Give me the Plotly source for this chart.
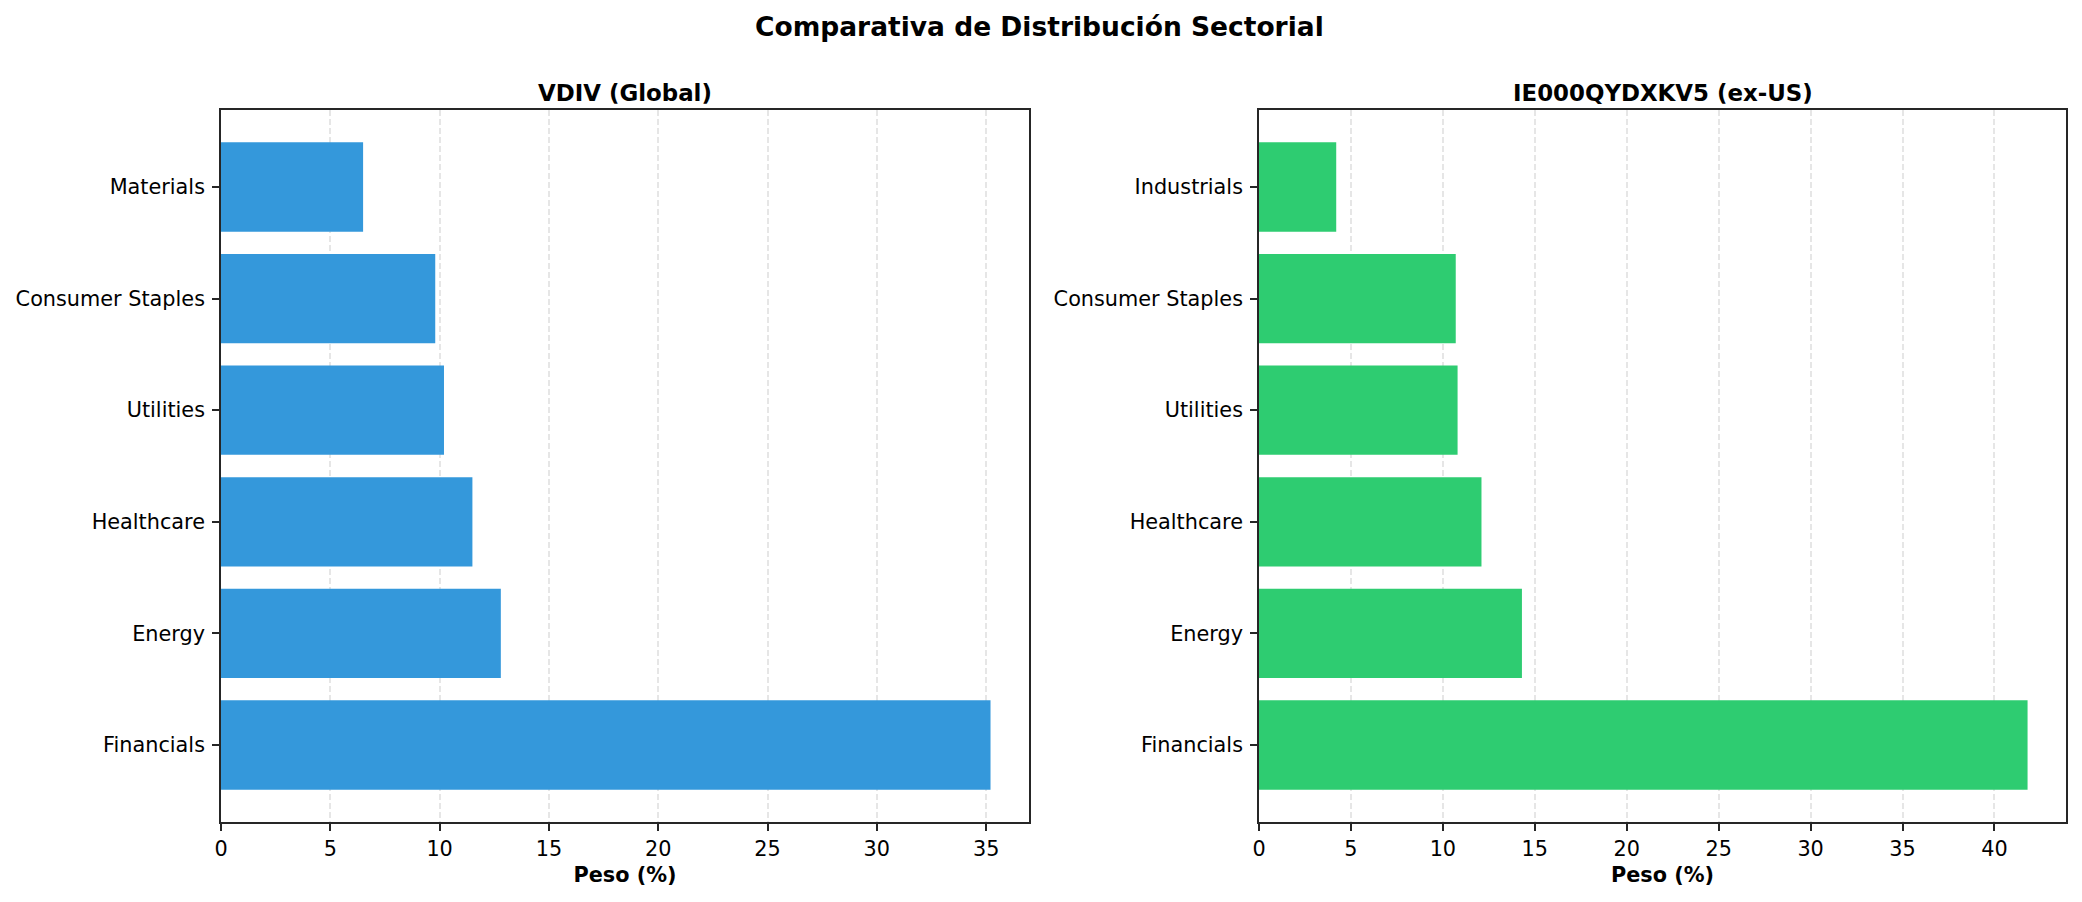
import plotly.graph_objects as go

# Data
sectors_vdiv = ["Financials", "Energy", "Healthcare", "Utilities", "Consumer Staples", "Materials"]
weights_vdiv = [35.2, 12.8, 11.5, 10.2, 9.8, 6.5]

sectors_exus = ["Financials", "Energy", "Healthcare", "Utilities", "Consumer Staples", "Industrials"]
weights_exus = [41.8, 14.3, 12.1, 10.8, 10.7, 4.2]

title_main = "Comparativa de Distribución Sectorial"
title_left = "VDIV (Global)"
title_right = "IE000QYDXKV5 (ex-US)"
x_label = "Peso (%)"

W, H = 2082, 902
FONT = "DejaVu Sans"
BLUE = "#3498db"
GREEN = "#2ecc71"
SPINE = "#262626"

fig = go.Figure()
fig.add_trace(go.Bar(x=weights_vdiv, y=sectors_vdiv, orientation="h",
                     marker=dict(color=BLUE, line=dict(width=0)), width=0.8,
                     xaxis="x", yaxis="y", showlegend=False))
fig.add_trace(go.Bar(x=weights_exus, y=sectors_exus, orientation="h",
                     marker=dict(color=GREEN, line=dict(width=0)), width=0.8,
                     xaxis="x2", yaxis="y2", showlegend=False))

def xax(domain, anchor, xmax):
    return dict(domain=domain, anchor=anchor, range=[0, xmax * 1.05],
                automargin=False,
                tickmode="linear", tick0=0, dtick=5,
                showline=True, mirror=True, linecolor=SPINE, linewidth=1.7,
                ticks="outside", ticklen=7, tickwidth=1.7, tickcolor=SPINE,
                showgrid=True, gridcolor="#e6e6e6", gridwidth=1.6, griddash="6px,3px",
                zeroline=False,
                tickfont=dict(family=FONT, size=20.8, color="black"),
                title=dict(text="<b>" + x_label + "</b>", standoff=8,
                           font=dict(family=FONT, size=20.8, color="black")))

def yax(domain, anchor, cats):
    n = len(cats)
    return dict(domain=domain, anchor=anchor, type="category",
                automargin=False,
                categoryorder="array", categoryarray=cats,
                range=[-0.69, n - 1 + 0.69],
                showline=True, mirror=True, linecolor=SPINE, linewidth=1.7,
                ticks="outside", ticklen=7, tickwidth=1.7, tickcolor=SPINE,
                ticklabelstandoff=3,
                showgrid=False, zeroline=False,
                tickfont=dict(family=FONT, size=20.8, color="black"))

ydom = [1 - 822 / H, 1 - 110 / H]
fig.update_layout(
    width=W, height=H,
    margin=dict(l=0, r=0, t=0, b=0, autoexpand=False),
    paper_bgcolor="white", plot_bgcolor="white",
    bargap=0.2,
    xaxis=xax([221 / W, 1029 / W], "y", max(weights_vdiv)),
    yaxis=yax(ydom, "x", sectors_vdiv),
    xaxis2=xax([1259 / W, 2066 / W], "y2", max(weights_exus)),
    yaxis2=yax(ydom, "x2", sectors_exus),
    annotations=[
        dict(text="<b>" + title_main + "</b>", x=0.4995, y=1 - 26.5 / H,
             xref="paper", yref="paper", xanchor="center", yanchor="middle",
             showarrow=False, font=dict(family=FONT, size=26.5, color="black")),
        dict(text="<b>" + title_left + "</b>", x=(221 + 1029) / 2 / W, y=1 - 93 / H,
             xref="paper", yref="paper", xanchor="center", yanchor="middle",
             showarrow=False, font=dict(family=FONT, size=22.9, color="black")),
        dict(text="<b>" + title_right + "</b>", x=(1259 + 2066) / 2 / W, y=1 - 93 / H,
             xref="paper", yref="paper", xanchor="center", yanchor="middle",
             showarrow=False, font=dict(family=FONT, size=22.9, color="black")),
    ],
)

fig.write_html("out.html")
